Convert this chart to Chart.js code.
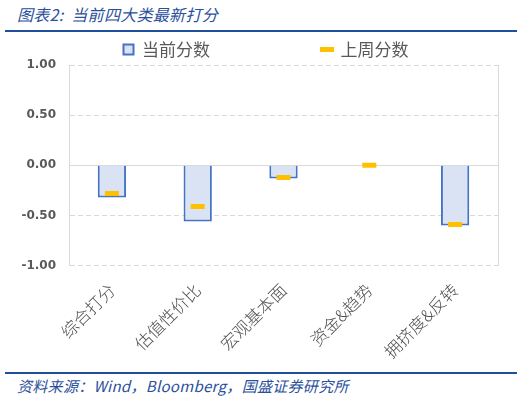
<!DOCTYPE html>
<html>
<head>
<meta charset="utf-8">
<script src="https://cdn.jsdelivr.net/npm/chart.js@4.4.0/dist/chart.umd.min.js"></script>
<style>
  body { margin: 0; background: #fff; }
  #page { position: relative; width: 526px; height: 399px; overflow: hidden; }
  .cap { position: absolute; left: 17px; font-family: "Noto Sans CJK SC", "Noto Sans", sans-serif; font-style: italic; color: #2A509C; white-space: nowrap; }
  #title { top: 2px; font-size: 16px; letter-spacing: 0.3px; }
  #source { top: 375px; font-size: 15px; letter-spacing: 0.3px; }
  .rule { position: absolute; left: 5px; width: 512px; height: 2px; background: #1F4E9A; }
  #chartBox { position: absolute; left: 0; top: 0; width: 526px; height: 399px; }
</style>
</head>
<body>
<div id="page">
  <div id="title" class="cap">图表2:&nbsp; 当前四大类最新打分</div>
  <div class="rule" style="top:30px"></div>
  <div class="rule" style="top:372px"></div>
  <div id="source" class="cap">资料来源：Wind，Bloomberg，国盛证券研究所</div>
  <div id="chartBox"><canvas id="canvas__main"></canvas></div>
</div>
<script>
const categories = ['综合打分', '估值性价比', '宏观基本面', '资金&趋势', '拥挤度&反转'];
const currentScores = [-0.32, -0.56, -0.13, 0.00, -0.60];
const lastWeekScores = [-0.28, -0.41, -0.12, 0.00, -0.59];
const yTicks = [1.00, 0.50, 0.00, -0.50, -1.00];

const ctxMain = document.querySelector('#canvas__main');

const gridGray = '#D9D9D9';
const cjk = '"Noto Sans CJK SC", "Noto Sans", sans-serif';

const chartConfig = {
  type: 'bar',
  data: {
    labels: categories,
    datasets: [
      {
        label: '当前分数',
        data: currentScores,
        backgroundColor: '#DAE3F3',
        borderColor: '#4472C4',
        borderWidth: 2,
        pointStyle: 'rect',
        categoryPercentage: 1,
        barPercentage: 0.33,
        order: 1
      },
      {
        type: 'line',
        label: '上周分数',
        data: lastWeekScores,
        showLine: false,
        pointStyle: 'line',
        pointRadius: 7,
        pointHoverRadius: 7,
        pointBorderWidth: 5,
        pointBorderColor: '#FFC000',
        pointBackgroundColor: '#FFC000',
        borderColor: '#FFC000',
        backgroundColor: '#FFC000',
        order: 0
      }
    ]
  },
  options: {
    responsive: true,
    maintainAspectRatio: false,
    animation: false,
    layout: { padding: { top: 31, left: 6, right: 0, bottom: 31 } },
    plugins: {
      tooltip: { enabled: false },
      legend: {
        position: 'top',
        maxHeight: 34,
        labels: {
          usePointStyle: true,
          boxWidth: 10,
          boxHeight: 10,
          padding: 10,
          color: '#595959',
          font: { family: cjk, size: 17 },
          generateLabels: function(chart) {
            const items = Chart.defaults.plugins.legend.labels.generateLabels(chart);
            items.sort((a, b) => a.datasetIndex - b.datasetIndex);
            // wide gap between the two legend entries
            if (items.length) items[0].text = items[0].text + '\u3000\u3000\u3000\u3000\u3000\u3000';
            return items;
          }
        }
      }
    },
    scales: {
      x: {
        grid: { display: false },
        border: { display: false },
        ticks: {
          color: '#505050',
          font: { family: cjk, size: 17, weight: 300 },
          minRotation: 45,
          maxRotation: 45,
          padding: 6
        }
      },
      y: {
        min: -1,
        max: 1,
        afterBuildTicks: function(scale) {
          scale.ticks = yTicks.map(v => ({ value: v }));
        },
        afterFit: function(scale) {
          scale.width = 63;
        },
        grid: {
          color: gridGray,
          lineWidth: 1,
          drawTicks: false
        },
        border: {
          display: true,
          color: gridGray,
          dash: function(c) {
            if (!c.tick) return [];
            return c.tick.value === 0 ? [] : [5, 3];
          }
        },
        ticks: {
          color: '#595959',
          padding: 13,
          font: { family: '"DejaVu Sans", sans-serif', size: 12, weight: 'bold' },
          callback: function(v) { return Number(v).toFixed(2); }
        }
      },
      y2: {
        position: 'right',
        min: -1,
        max: 1,
        afterFit: function(scale) {
          scale.width = 28;
        },
        grid: { display: false, drawTicks: false },
        border: { display: true, color: gridGray },
        ticks: { display: false }
      }
    }
  }
};

const scoreChart = new Chart(ctxMain, chartConfig);
</script>
</body>
</html>
